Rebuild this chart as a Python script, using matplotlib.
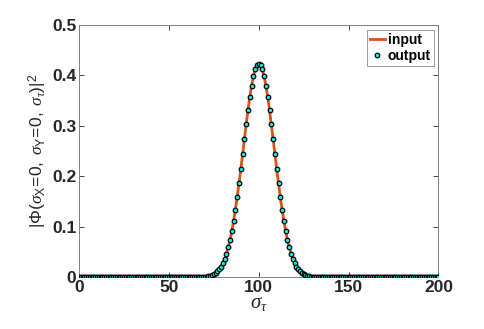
import numpy as np
import matplotlib
matplotlib.use("Agg")
import matplotlib.pyplot as plt

# sigma_tau grid (one point per integer step)
x_all = np.arange(0, 201)

peak_x = np.arange(65, 136)
half = [0.423, 0.420, 0.412, 0.398, 0.379, 0.357, 0.331, 0.303, 0.274, 0.244,
        0.214, 0.186, 0.159, 0.134, 0.112, 0.0915, 0.0741, 0.0592, 0.0467, 0.0363,
        0.0278, 0.0211, 0.0157, 0.0116, 0.0084, 0.0060, 0.0043, 0.0030, 0.0020,
        0.0014, 0.0009, 0.0006, 0.0004, 0.0003, 0.0002, 0.0001]
peak_y = half[:0:-1] + half

y_in = np.zeros(len(x_all))
y_in[peak_x] = peak_y
y_out = y_in.copy()

plt.rcParams['font.family'] = ['Liberation Sans', 'DejaVu Sans']
plt.rcParams['mathtext.fontset'] = 'custom'
plt.rcParams['mathtext.rm'] = 'Liberation Sans'
plt.rcParams['mathtext.sf'] = 'Liberation Sans'
plt.rcParams['mathtext.it'] = 'Liberation Serif:italic'

dark = '#262626'

fig = plt.figure(figsize=(4.85, 3.29), dpi=100)
ax = fig.add_axes([0.163, 0.157, 0.741, 0.767])

ax.plot(x_all, y_in, color='#D95319', lw=2.0, label='input', zorder=2)
ax.plot(x_all, y_out, ls='none', marker='o', ms=3.3, mfc='#00F0F0',
        mec='black', mew=0.9, label='output', zorder=3)

ax.set_xlim(0, 200)
ax.set_ylim(0, 0.5)
ax.set_xticks([0, 50, 100, 150, 200])
ax.set_yticks([0, 0.1, 0.2, 0.3, 0.4, 0.5])
ax.set_yticklabels(['0', '0.1', '0.2', '0.3', '0.4', '0.5'])

for s in ax.spines.values():
    s.set_color('#808080')
    s.set_linewidth(0.7)
ax.tick_params(direction='in', length=3.5, width=0.6, color=dark,
               top=True, right=True, labelsize=12.5, labelcolor=dark, pad=2)
for lab in ax.get_xticklabels() + ax.get_yticklabels():
    lab.set_fontweight('bold')

ax.set_xlabel(r'$\sigma_\tau$', fontsize=15, color=dark, labelpad=-1)
ax.set_ylabel(r'$|\Phi(\sigma_{\mathsf{X}}\!=\!0,\ \sigma_{\mathsf{Y}}\!=\!0,\ \sigma_\tau)|^2$',
              fontsize=12.5, color=dark, labelpad=2)

leg = ax.legend(loc='upper right', fancybox=False, numpoints=1, handlelength=1.1,
                handletextpad=0.2, borderpad=0.2, labelspacing=0.15,
                borderaxespad=0.35, prop={'weight': 'bold', 'size': 10})
leg.get_frame().set_edgecolor('#808080')
leg.get_frame().set_linewidth(0.7)

fig.savefig('out.png', dpi=100)
